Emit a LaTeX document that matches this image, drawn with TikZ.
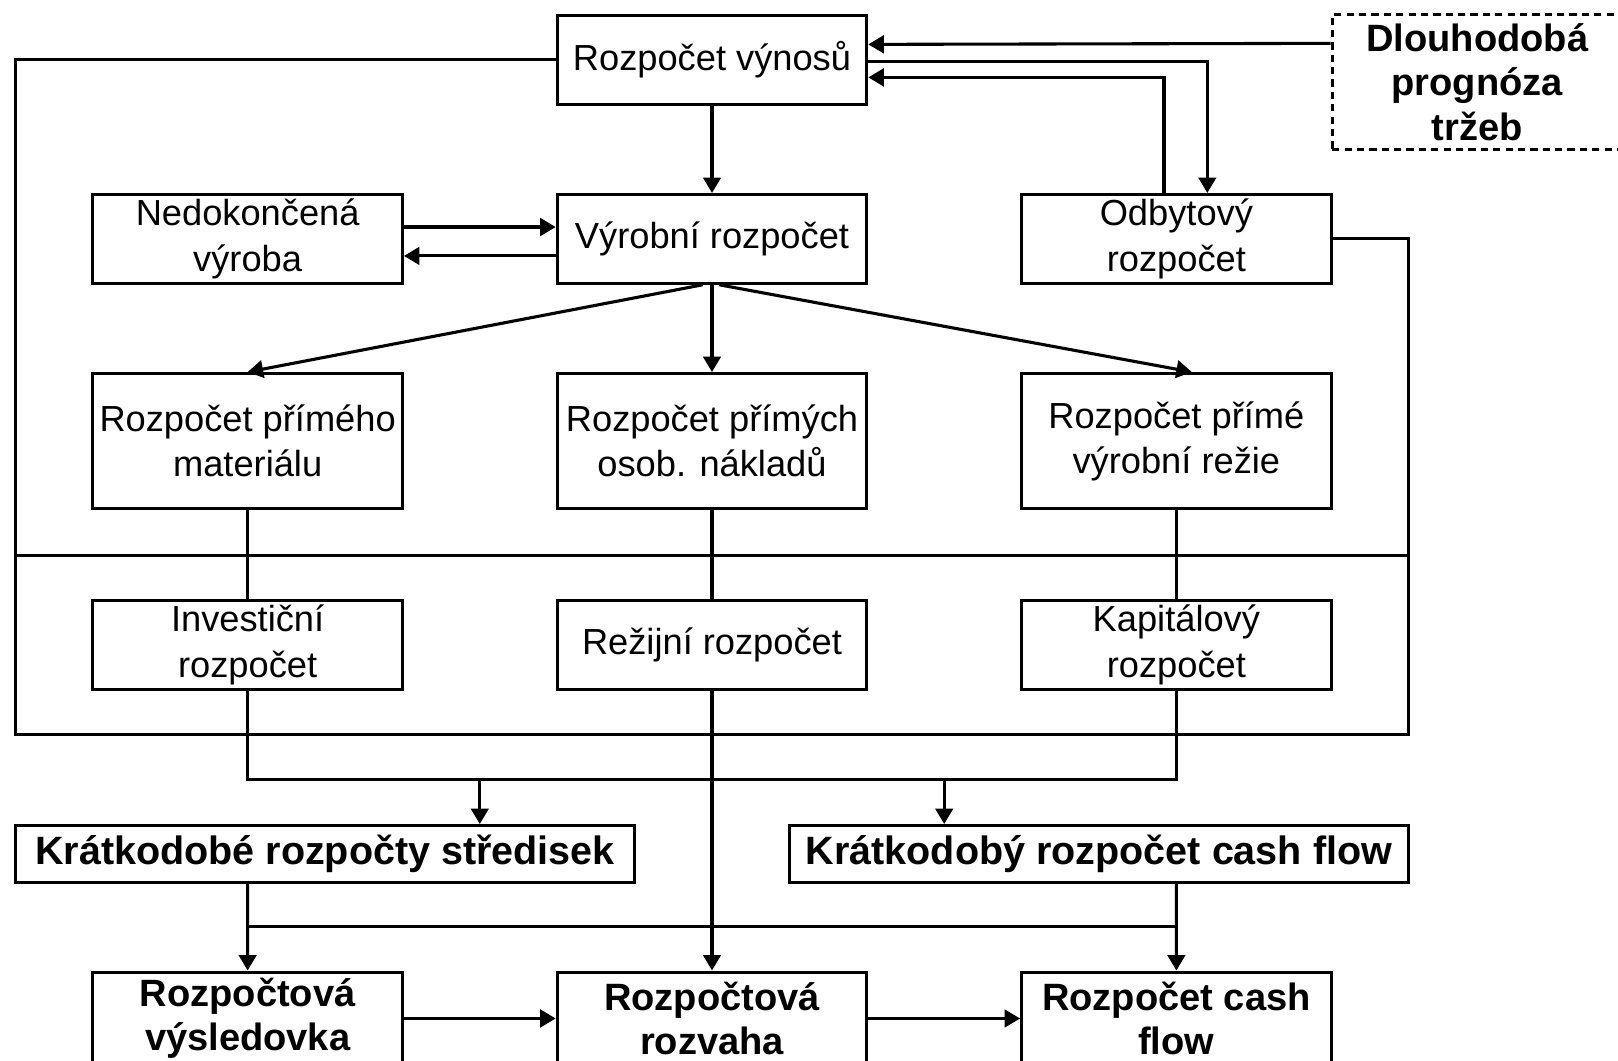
\documentclass[tikz,border=0pt]{standalone}
\usepackage{fontspec}
\setmainfont{Liberation Sans}
\usetikzlibrary{arrows.meta}

\begin{document}
\begin{tikzpicture}[x=0.02cm, y=-0.02cm, line width=1.7pt,
    box/.style={draw, line width=1.7pt, inner sep=0pt, align=center,
                minimum width=6cm, minimum height=1.72cm,
                font=\fontsize{20}{25}\selectfont},
    tallbox/.style={box, minimum height=2.62cm},
    boldbox/.style={box, font=\fontsize{21}{24.5}\selectfont\bfseries},
    widebox/.style={boldbox, minimum width=12cm, minimum height=1.1cm,
                    font=\fontsize{21.8}{24.5}\selectfont\bfseries},
    arr/.style={-{Triangle[length=0.3cm, width=0.34cm]}}]
\useasboundingbox (0,0) rectangle (1568,1028);

\node[box]     (vynosy)      at (690,58)     {Rozpočet výnosů};
\node[boldbox, dash pattern=on 0.14cm off 0.1cm, minimum width=5.62cm, minimum height=2.62cm]
               (prognoza)    at (1431.5,79.5) {Dlouhodobá\\prognóza\\tržeb};
\node[box]     (nedokoncena) at (240,231.5)  {Nedokončená\\výroba};
\node[box]     (vyrobni)     at (690,231.5)  {Výrobní rozpočet};
\node[box]     (odbytovy)    at (1140,231.5) {Odbytový\\rozpočet};
\node[tallbox] (material)    at (240,427.5)  {Rozpočet přímého\\materiálu};
\node[tallbox] (osob)        at (690,427.5)  {Rozpočet přímých\\osob. nákladů};
\node[tallbox] (rezie)       at (1140,427.5) {Rozpočet přímé\\výrobní režie};
\node[box]     (invest)      at (240,625)    {Investiční\\rozpočet};
\node[box]     (rezijni)     at (690,625)    {Režijní rozpočet};
\node[box]     (kapital)     at (1140,625)   {Kapitálový\\rozpočet};
\node[widebox] (strediska)   at (315,827.5)  {Krátkodobé rozpočty středisek};
\node[widebox] (kratkocf)    at (1065,827.5) {Krátkodobý rozpočet cash flow};
\node[boldbox, minimum height=1.8cm] (vysledovka) at (240,987)  {Rozpočtová\\výsledovka};
\node[boldbox, minimum height=1.8cm] (rozvaha)    at (690,987)  {Rozpočtová\\rozvaha};
\node[boldbox, minimum height=1.8cm] (cashflow)   at (1140,987) {Rozpočet cash\\flow};

\coordinate (frameSW) at (15,712);
\coordinate (frameSE) at (1365,712);
\coordinate (midW)    at (15,538);
\coordinate (midE)    at (1365,538);
\coordinate (busA)    at (690,755);
\coordinate (busB)    at (690,898);

\draw (vynosy.west) -| (frameSW) -- (frameSE) |- (odbytovy.east);
\draw (midW) -- (midE);

\draw[arr] ([yshift=0.75cm]prognoza.west) -- ([yshift=0.3cm]vynosy.east);
\draw[arr] ([yshift=-0.04cm]vynosy.east) -| ([xshift=0.6cm]odbytovy.north);
\draw[arr] ([xshift=-0.24cm]odbytovy.north) |- ([yshift=-0.34cm]vynosy.east);
\draw[arr] (vynosy) -- (vyrobni);
\draw[arr] ([yshift=0.23cm]nedokoncena.east) -- ([yshift=0.23cm]vyrobni.west);
\draw[arr] ([yshift=-0.33cm]vyrobni.west) -- ([yshift=-0.33cm]nedokoncena.east);

\draw[arr] ([xshift=-0.18cm]vyrobni.south) -- (material.north);
\draw[arr] (vyrobni) -- (osob);
\draw[arr] ([xshift=0.14cm]vyrobni.south) -- ([xshift=0.3cm]rezie.north);

\draw (material) -- (invest);
\draw (osob) -- (rezijni);
\draw (rezie) -- (kapital);

\draw (invest.south) |- (busA) -| (kapital.south);
\draw[arr] ([xshift=3cm]strediska.north |- busA) -- ([xshift=3cm]strediska.north);
\draw[arr] ([xshift=-3cm]kratkocf.north |- busA) -- ([xshift=-3cm]kratkocf.north);
\draw[arr] (rezijni) -- (rozvaha);

\draw (vysledovka.north |- busB) -- (cashflow.north |- busB);
\draw[arr] ([xshift=-1.5cm]strediska.south) -- (vysledovka.north);
\draw[arr] ([xshift=1.5cm]kratkocf.south) -- (cashflow.north);
\draw[arr] (vysledovka) -- (rozvaha);
\draw[arr] (rozvaha) -- (cashflow);
\end{tikzpicture}
\end{document}
